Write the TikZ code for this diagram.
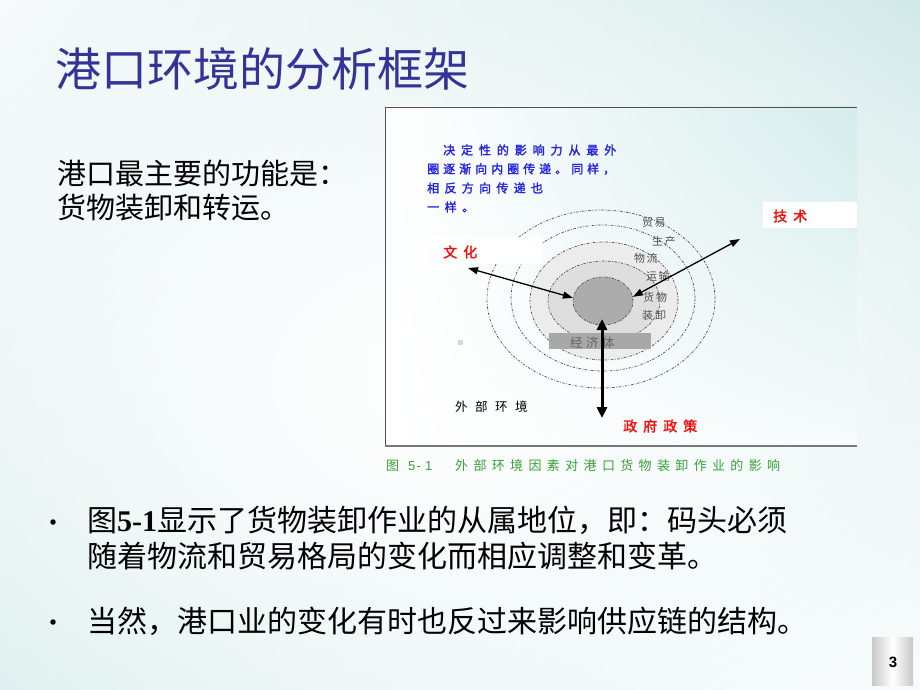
\documentclass[tikz,border=0pt]{standalone}
\usepackage{fontspec}
\usetikzlibrary{shapes.geometric,arrows.meta,fadings,shadings}
\newfontfamily\cjk[AutoFakeBold=2]{Noto Sans CJK SC}
\newfontfamily\cjkm{Noto Sans CJK SC}
\newfontfamily\numserif{Liberation Serif}
\newfontfamily\numsans{Liberation Sans}
\ExplSyntaxOn
\NewDocumentCommand\spc{mm}{\tl_map_inline:nn {#2} {\makebox[#1][l]{##1}}}
\ExplSyntaxOff
\definecolor{bgUL}{HTML}{F2F8F8}
\definecolor{bgUR}{HTML}{BFDFDF}
\definecolor{bgLL}{HTML}{CCE6E6}
\definecolor{bgLR}{HTML}{F4FAFA}
\definecolor{panelUR}{HTML}{D6ECEC}
\definecolor{panelLR}{HTML}{F6FBFB}
\definecolor{titleblue}{HTML}{333399}
\definecolor{noteblue}{HTML}{2424E0}
\definecolor{lblred}{HTML}{F01010}
\definecolor{capgreen}{HTML}{38A038}
\definecolor{ringgrey}{HTML}{505050}
\definecolor{fillA}{HTML}{ECECEC}
\definecolor{fillB}{HTML}{DEDEDE}
\definecolor{fillC}{HTML}{ACACAC}
\definecolor{barfill}{HTML}{A8A8A8}
\definecolor{bartext}{HTML}{646464}
\definecolor{pggrey}{HTML}{C8C8C8}
\definecolor{framedark}{HTML}{505050}
\definecolor{framemid}{HTML}{787878}
\definecolor{sqgrey}{HTML}{D8D8D8}
\tikzfading[name=centerfade, inner color=transparent!0, outer color=transparent!100]
\tikzset{
  txt/.style={anchor=west, inner sep=0pt},
  ring/.style={draw=ringgrey, line width=0.7pt, dash pattern=on 2.5pt off 1.5pt on 0.8pt off 1.5pt},
  redlbl/.style={txt, text=lblred, font=\cjk\bfseries\fontsize{14}{16}\selectfont},
  circlbl/.style={txt, text=ringgrey, font=\cjk\fontsize{11}{12}\selectfont},
  bluelbl/.style={txt, text=noteblue, font=\cjk\bfseries\fontsize{12}{13}\selectfont},
  whitebox/.style={fill=white, inner sep=0pt},
  thinarrow/.style={line width=1.3pt, {Triangle[length=10pt,width=7pt]}-{Triangle[length=10pt,width=7pt]}},
  thickarrow/.style={line width=3pt, {Triangle[length=11pt,width=10pt]}-{Triangle[length=11pt,width=10pt]}},
  bodytxt/.style={txt, font=\cjkm\fontsize{30}{34}\selectfont},
  bulletdot/.style={circle, fill=black, inner sep=0pt, minimum size=5.5pt},
}
\begin{document}
\begin{tikzpicture}[x=1pt,y=-1pt]
\useasboundingbox (0,0) rectangle (920,690);
% background
\shade[upper left=bgUL, upper right=bgUR, lower left=bgLL, lower right=bgLR] (0,0) rectangle (920,690);
\fill[white, path fading=centerfade] (450,380) ellipse [x radius=1000, y radius=720];

% title and intro
\node[txt, text=titleblue, font=\cjkm\fontsize{46}{50}\selectfont] (title) at (55,69) {港口环境的分析框架};
\node[txt, font=\cjkm\fontsize{29}{32}\selectfont] (intro1) at (57,173) {港口最主要的功能是：};
\node[txt, font=\cjkm\fontsize{29}{32}\selectfont] (intro2) at (57,207) {货物装卸和转运。};

% diagram panel
\shade[upper left=white, upper right=panelUR, lower left=white, lower right=panelLR] (385,107) rectangle (857,446);
\draw[line width=0.8pt, draw=framedark] (857,107) -- (385,107) -- (385,446);
\draw[line width=1.6pt, draw=framemid] (385,446) -- (857,446);

% rings
\node[ring, ellipse, inner sep=0pt, minimum width=228pt, minimum height=178pt] (r4) at (601,299) {};
\node[ring, ellipse, inner sep=0pt, minimum width=184pt, minimum height=146pt] (r3) at (603,298) {};
\node[ring, ellipse, inner sep=0pt, fill=fillA, minimum width=148pt, minimum height=118pt] (r2) at (604,301) {};
\node[ring, ellipse, inner sep=0pt, fill=fillB, minimum width=112pt, minimum height=80pt] (r1) at (604,301) {};
\node[ring, ellipse, inner sep=0pt, fill=fillC, minimum width=60pt, minimum height=48pt] (core) at (603,301) {};

% ring labels
\node[circlbl] (l1) at (642,222) {\spc{12.5pt}{贸易}};
\node[circlbl] (l2) at (652,241) {\spc{12.5pt}{生产}};
\node[circlbl] (l3) at (634,258) {\spc{12.5pt}{物流}};
\node[circlbl] (l4) at (646,276) {\spc{12.5pt}{运输}};
\node[circlbl] (l5) at (643,297) {\spc{13pt}{货物}};
\node[circlbl] (l6) at (642,315) {\spc{13pt}{装卸}};

% economy bar
\node[inner sep=0pt, fill=barfill, minimum width=102pt, minimum height=16pt] (econ) at (600,341) {};
\node[txt, text=bartext, font=\cjk\fontsize{12.5}{13}\selectfont] (econtxt) at (570,343) {\spc{16pt}{经济体}};

% note text
\node[bluelbl] (n1) at (443,150) {\spc{17.9pt}{决定性的影响力从最外}};
\node[bluelbl] (n2) at (427,169) {\spc{16pt}{圈逐渐向内圈传递。同样，}};
\node[bluelbl] (n3) at (427,188) {\spc{17.3pt}{相反方向传递也}};
\node[bluelbl] (n4) at (427,207) {\spc{17.5pt}{一样。}};

% labels
\node[whitebox, minimum width=110pt, minimum height=27pt] (whbox) at (487,250.5) {};
\node[redlbl] (wenhua) at (443,252) {\spc{20pt}{文化}};
\node[whitebox, minimum width=94pt, minimum height=26pt] (jsbox) at (810,215) {};
\node[redlbl] (jishu) at (773,216) {\spc{20pt}{技术}};
\node[redlbl] (zhengce) at (623,426) {\spc{20pt}{政府政策}};
\node[txt, font=\cjk\fontsize{12.5}{13}\selectfont] (waibu) at (455,407) {\spc{20pt}{外部环境}};
\node[inner sep=0pt, fill=sqgrey, minimum size=5pt] (sq) at (460,342) {};

% arrows
\coordinate (whEnd) at (468,268);
\coordinate (jsEnd) at (740,239);
\coordinate (govTop) at (602,319);
\coordinate (govBot) at (602,418);
\draw[thinarrow] (whEnd) -- (core.174);
\draw[thinarrow] (jsEnd) -- (core.8);
\draw[thickarrow] (govTop) -- (govBot);

% caption
\node[txt, text=capgreen, font=\cjk\fontsize{13}{14}\selectfont] (cap1) at (386,466) {图};
\node[txt, text=capgreen, font=\numsans\fontsize{13}{14}\selectfont] (cap2) at (408,466) {\spc{8.5pt}{5-1}};
\node[txt, text=capgreen, font=\cjk\fontsize{13}{14}\selectfont] (cap3) at (455,466) {\spc{18.35pt}{外部环境因素对港口货物装卸作业的影响}};

% bullets
\node[bulletdot] (bul1) at (53,522) {};
\node[bodytxt] (b1a) at (87,520) {图{\numserif\bfseries 5-1}显示了货物装卸作业的从属地位，即：码头必须};
\node[bodytxt] (b1b) at (87,556) {随着物流和贸易格局的变化而相应调整和变革。};
\node[bulletdot] (bul2) at (53,622) {};
\node[bodytxt] (b2) at (87,621) {当然，港口业的变化有时也反过来影响供应链的结构。};

% page number
\shade[left color=pggrey, right color=pggrey, middle color=white] (872,637) rectangle (913,685);
\node[font=\numsans\bfseries\fontsize{15}{16}\selectfont] (pg) at (893,662) {3};
\end{tikzpicture}
\end{document}
